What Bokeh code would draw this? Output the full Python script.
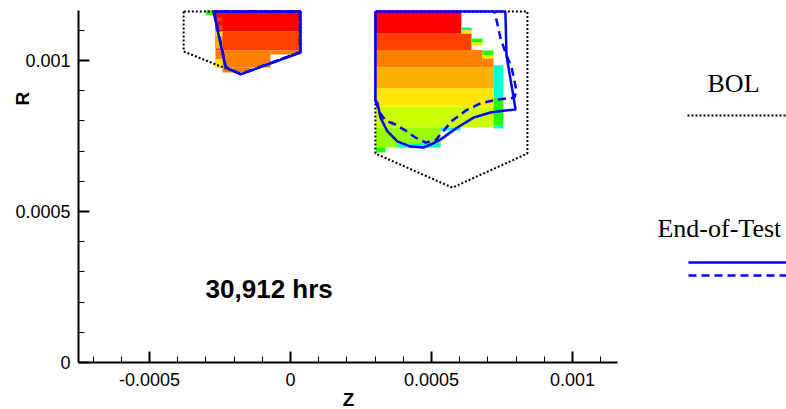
from bokeh.plotting import figure
from bokeh.models import (Label, Legend, LegendItem, FixedTicker, LinearColorMapper,
                          ColumnDataSource, Range1d, PrintfTickFormatter)
from bokeh.embed import file_html
from bokeh.resources import INLINE
import math

# ---------------- data ----------------
# axis extents and ticks
z_axis_min, z_axis_max = -0.000752, 0.001159
r_axis_min, r_axis_max = 0.0, 0.001166
x_major = [-0.0005, 0.0, 0.0005, 0.001]
x_minor = [-0.0007, -0.0006, -0.0004, -0.0003, -0.0002, -0.0001,
           0.0001, 0.0002, 0.0003, 0.0004, 0.0006, 0.0007, 0.0008, 0.0009, 0.0011]
y_major = [0.0, 0.0005, 0.001]
y_minor = [0.0001, 0.0002, 0.0003, 0.0004, 0.0006, 0.0007, 0.0008, 0.0009, 0.0011]

# BOL (beginning of life) outlines, two pockets
bol_left_z = [-0.000379, -0.000379, -0.000177, 0.0000355, 0.0000355, -0.000379]
bol_left_r = [0.001162, 0.001030, 0.000954, 0.001030, 0.001162, 0.001162]
bol_right_z = [0.000301, 0.000301, 0.000574, 0.000840, 0.000840, 0.000301]
bol_right_r = [0.001162, 0.000692, 0.000579, 0.000692, 0.001162, 0.001162]

# End-of-Test outline (solid)
eot_solid_left_z = [-0.000273, -0.000230, -0.000177, 0.0000355, 0.0000355, -0.000273]
eot_solid_left_r = [0.001162, 0.000977, 0.000954, 0.001026, 0.001162, 0.001162]
eot_solid_right_z = [0.000301, 0.000762, 0.000766, 0.000773, 0.000784, 0.000791, 0.000798,
                     0.000755, 0.000709, 0.000649, 0.000592, 0.000567, 0.000532, 0.000504,
                     0.000472, 0.000426, 0.000379, 0.000344, 0.000319, 0.000309, 0.000301,
                     0.000301]
eot_solid_right_r = [0.001162, 0.001162, 0.001017, 0.000977, 0.000917, 0.000877, 0.000838,
                     0.000834, 0.000828, 0.000811, 0.000778, 0.000762, 0.000738, 0.000725,
                     0.000712, 0.000715, 0.000732, 0.000765, 0.000811, 0.000858, 0.000868,
                     0.001162]

# End-of-Test outline (dashed)
eot_dash_left_z = [-0.000271, -0.000229, -0.000177, 0.000033, 0.000033, -0.000271]
eot_dash_left_r = [0.001162, 0.000978, 0.000956, 0.001027, 0.001162, 0.001162]
eot_dash_right_z = [0.000301, 0.000316, 0.000337, 0.000372, 0.000408, 0.000443, 0.000479,
                    0.000514, 0.000543, 0.000574, 0.000621, 0.000674, 0.000734, 0.000794,
                    0.000801, 0.000794, 0.000784, 0.000766, 0.000745, 0.000727, 0.000723]
eot_dash_right_r = [0.000868, 0.000828, 0.000801, 0.000788, 0.000768, 0.000745, 0.000728,
                    0.000735, 0.000768, 0.000801, 0.000834, 0.000858, 0.000871, 0.000877,
                    0.000901, 0.000934, 0.000977, 0.001017, 0.001073, 0.001149, 0.001162]

# contour cells (z-left, z-right, r-bottom, r-top, level 1..10)
cell_z0 = [-0.000301, -0.000266, -0.000266, -0.000266, -0.000071, -0.000241,
           -0.000266, -0.000266, -0.000266, -0.000266, -0.000266,
           0.000303, 0.000606, 0.000606, 0.000303, 0.000642, 0.000642, 0.000303,
           0.000681, 0.000681, 0.000681, 0.000303, 0.000720, 0.000303, 0.000303,
           0.000720, 0.000720, 0.000303, 0.000532, 0.000379, 0.000303]
cell_z1 = [-0.000266, 0.0000355, 0.0000355, -0.000071, 0.0000355, -0.000142,
           -0.000241, -0.000241, -0.000241, -0.000241, -0.000241,
           0.000606, 0.000642, 0.000642, 0.000642, 0.000681, 0.000681, 0.000681,
           0.000720, 0.000720, 0.000720, 0.000720, 0.000755, 0.000720, 0.000720,
           0.000755, 0.000755, 0.000532, 0.000603, 0.000532, 0.000337]
cell_r0 = [0.001150, 0.001096, 0.001033, 0.000977, 0.001020, 0.000960,
           0.001130, 0.001100, 0.001080, 0.001040, 0.000977,
           0.001089, 0.001100, 0.001089, 0.001035, 0.001060, 0.001050, 0.000977,
           0.000977, 0.001017, 0.001007, 0.000907, 0.000877, 0.000848, 0.000778,
           0.000785, 0.000775, 0.000712, 0.000768, 0.000712, 0.000695]
cell_r1 = [0.001166, 0.001166, 0.001096, 0.001033, 0.001033, 0.000977,
           0.001142, 0.001118, 0.001096, 0.001080, 0.001005,
           0.001166, 0.001109, 0.001100, 0.001089, 0.001073, 0.001060, 0.001035,
           0.001007, 0.001033, 0.001017, 0.000977, 0.000984, 0.000907, 0.000848,
           0.000877, 0.000785, 0.000778, 0.000778, 0.000725, 0.000712]
cell_level = [3, 10, 9, 8, 8, 8,
              9, 9, 6, 7, 6,
              10, 2, 6, 9, 3, 6, 8,
              8, 3, 6, 7, 1, 6, 5,
              3, 1, 4, 1, 1, 3]

level_palette = ["#00FFCC", "#00FF80", "#22FF00", "#99FF00", "#CCFF00",
                 "#FFE500", "#FFB000", "#FF7F00", "#FF4000", "#FF0000"]

annotation_text = "30,912 hrs"

# ---------------- figure ----------------
# the frame covers the whole canvas; axes are pinned at fixed data locations
p = figure(width=786, height=409, output_backend="svg", toolbar_location=None,
           x_range=Range1d(-0.0010284, 0.0017589), y_range=Range1d(-0.00015563, 0.0011987),
           min_border_left=0, min_border_right=0, min_border_top=0, min_border_bottom=0)
p.outline_line_color = None
p.xgrid.visible = False
p.ygrid.visible = False
p.background_fill_color = "white"
p.border_fill_color = "white"

mapper = LinearColorMapper(palette=level_palette, low=0.5, high=10.5)
cells = ColumnDataSource(dict(z0=cell_z0, z1=cell_z1, r0=cell_r0, r1=cell_r1, lvl=cell_level))
p.quad(left="z0", right="z1", bottom="r0", top="r1", source=cells,
       fill_color={"field": "lvl", "transform": mapper}, line_color=None)

bol_r = p.multi_line(xs=[bol_left_z, bol_right_z], ys=[bol_left_r, bol_right_r],
                     line_color="black", line_width=2, line_dash="2 2")
solid_r = p.multi_line(xs=[eot_solid_left_z, eot_solid_right_z],
                       ys=[eot_solid_left_r, eot_solid_right_r],
                       line_color="#0000FF", line_width=2.5)
dash_r = p.multi_line(xs=[eot_dash_left_z, eot_dash_right_z],
                      ys=[eot_dash_left_r, eot_dash_right_r],
                      line_color="#0000FF", line_width=2.5, line_dash="8 5")

# axes
xax = p.xaxis[0]
yax = p.yaxis[0]
xax.fixed_location = r_axis_min
yax.fixed_location = z_axis_min
xax.bounds = (z_axis_min, z_axis_max)
yax.bounds = (r_axis_min, r_axis_max)
for ax, major, minor, standoff in ((xax, x_major, x_minor, 10),
                                   (yax, y_major, y_minor, 8)):
    ax.ticker = FixedTicker(ticks=major, minor_ticks=minor)
    ax.formatter = PrintfTickFormatter(format="%g")
    ax.axis_line_width = 2
    ax.axis_line_color = "black"
    ax.major_tick_in = 11
    ax.major_tick_out = 0
    ax.minor_tick_in = 6
    ax.minor_tick_out = 0
    ax.major_tick_line_width = 2
    ax.minor_tick_line_width = 1
    ax.major_tick_line_color = "black"
    ax.minor_tick_line_color = "black"
    ax.major_label_text_font = "Liberation Sans"
    ax.major_label_text_font_size = "18px"
    ax.major_label_text_color = "black"
    ax.major_label_standoff = standoff

# axis titles
p.add_layout(Label(x=0.000206, y=-0.0001225, text="Z", text_font="Liberation Sans",
                   text_font_style="bold", text_font_size="19px", text_align="center",
                   text_baseline="middle", text_color="black"))
p.add_layout(Label(x=-0.00095, y=0.000874, text="R", text_font="Liberation Sans",
                   text_font_style="bold", text_font_size="19px", text_align="center",
                   text_baseline="middle", angle=math.pi / 2, text_color="black"))

# annotation
p.add_layout(Label(x=-0.000301, y=0.0002434, text=annotation_text, text_font="Liberation Sans",
                   text_font_style="bold", text_font_size="26px", text_align="left",
                   text_baseline="middle", text_color="black"))

# legend texts
p.add_layout(Label(x=0.001571, y=0.000924, text="BOL", text_font="Liberation Serif",
                   text_font_size="26px", text_align="center", text_baseline="middle",
                   text_color="black"))
p.add_layout(Label(x=0.0013014, y=0.0004437, text="End-of-Test", text_font="Liberation Serif",
                   text_font_size="26px", text_align="left", text_baseline="middle",
                   text_color="black"))

# legend keys
common = dict(glyph_width=99, glyph_height=12, label_height=12, label_width=1,
              label_standoff=0, padding=0, margin=0, spacing=1,
              border_line_color=None, background_fill_alpha=0,
              label_text_font_size="1px")
leg_bol = Legend(items=[LegendItem(label=" ", renderers=[bol_r])], location=(687, 288), **common)
leg_eot = Legend(items=[LegendItem(label=" ", renderers=[solid_r]),
                        LegendItem(label=" ", renderers=[dash_r])], location=(688, 128), **common)
p.add_layout(leg_bol)
p.add_layout(leg_eot)

open("out.html", "w").write(file_html(p, INLINE))
